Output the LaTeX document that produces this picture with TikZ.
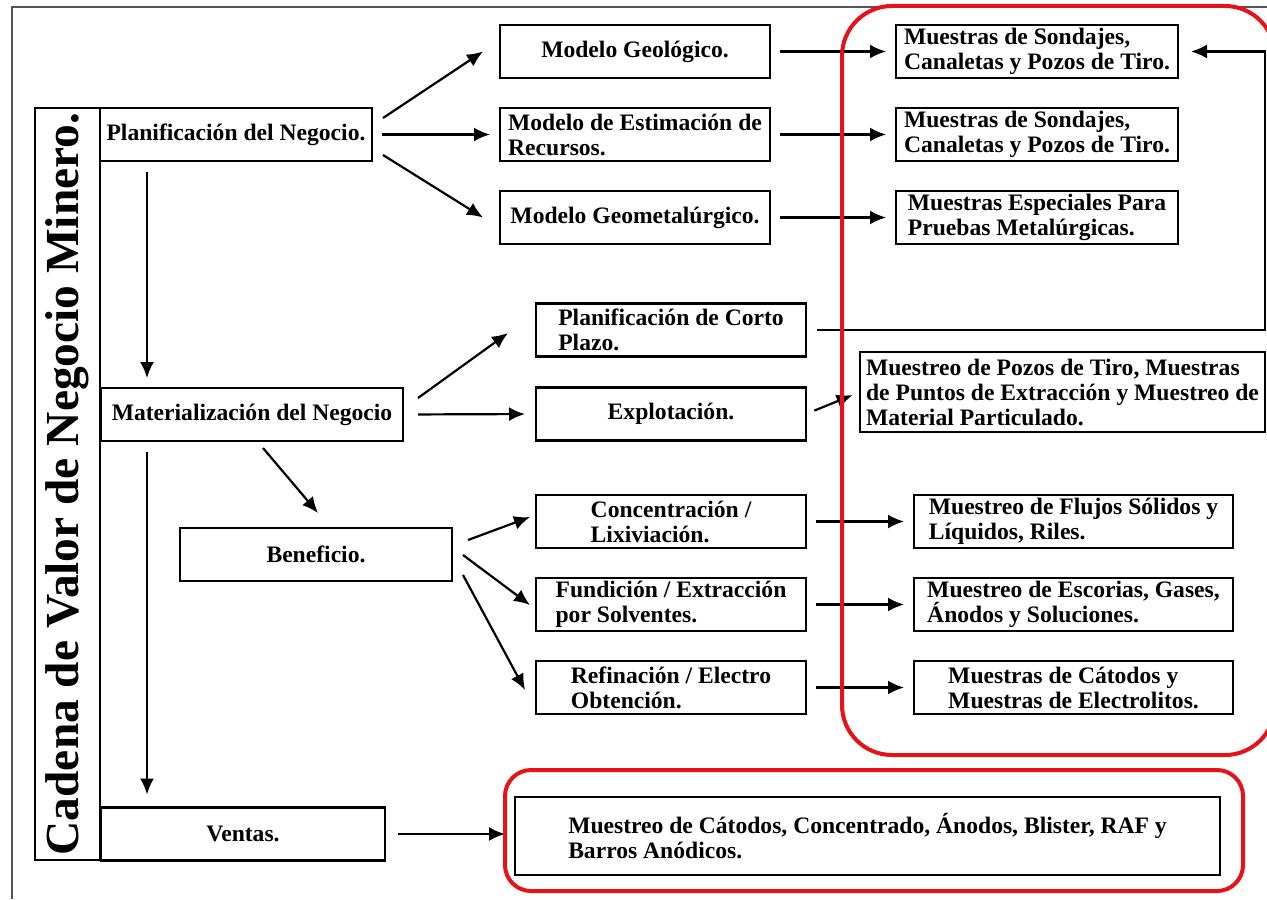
\documentclass[tikz,border=0pt]{standalone}
\usepackage{fontspec}
\setmainfont{Liberation Serif}
\usetikzlibrary{positioning, arrows.meta}
\definecolor{markred}{RGB}{230,18,24}
\definecolor{framegray}{RGB}{85,85,85}

\begin{document}
\begin{tikzpicture}[
            x=0.5pt, y=0.5pt,
            node distance=15pt and 54pt,
            stage/.style={rectangle, draw, line width=1.3pt, align=left, inner xsep=3pt, inner ysep=1pt, outer sep=0pt, minimum height=26.5pt, font=\fontsize{11.8}{12.5}\selectfont\bfseries},
            arrow/.style={-{Latex[length=8pt, width=7pt]}, line width=1.1pt},
            gap/.style={shorten <=5pt, shorten >=5pt},
            redzone/.style={draw=markred, line width=2pt}
        ]
        \useasboundingbox (0,0) rectangle (1267,-899);
        \clip (0,0) rectangle (1267,-899);

        % outer frame of the figure
        \draw[framegray, line width=1pt] (12,-899) |- (1280,-7);

        % value chain spine
        \node[stage, rotate=90, minimum width=376pt, minimum height=32.5pt, inner xsep=2pt, font=\fontsize{23.7}{26}\selectfont\bfseries] (cadena) at (67.5,-484) {Cadena de Valor de Negocio Minero.};
        \node[stage, minimum width=136pt] (planif) at (236,-134.5) {Planificación del Negocio.};
        \node[stage, minimum width=151pt] (materia) at (252,-414.5) {Materialización del Negocio};
        \node[stage, minimum width=136pt] (benef) at (316,-554.5) {Beneficio.};
        \node[stage, minimum width=142pt] (ventas) at (243,-834) {Ventas.};

        % stages
        \node[stage, minimum width=135pt] (geolog) at (635,-51.5) {Modelo Geológico.};
        \node[stage, minimum width=135pt, below=of geolog] (estim) {Modelo de Estimación de\\Recursos.};
        \node[stage, minimum width=135pt, below=of estim] (geomet) {Modelo Geometalúrgico.};
        \node[stage, minimum width=135pt] (corto) at (671,-330) {Planificación de Corto\\Plazo.};
        \node[stage, minimum width=135pt, below=15.5pt of corto] (explot) {Explotación.};
        \node[stage, minimum width=135pt] (concen) at (671,-521.5) {Concentración /\\Lixiviación.};
        \node[stage, minimum width=135pt, below=of concen] (fundic) {Fundición / Extracción\\por Solventes.};
        \node[stage, minimum width=135pt, below=of fundic] (refin) {Refinación / Electro\\Obtención.};

        % samples
        \node[stage, minimum width=141pt, right=63pt of geolog] (sond1) {Muestras de Sondajes,\\Canaletas y Pozos de Tiro.};
        \node[stage, minimum width=141pt, right=63pt of estim] (sond2) {Muestras de Sondajes,\\Canaletas y Pozos de Tiro.};
        \node[stage, minimum width=141pt, right=63pt of geomet] (especial) {Muestras Especiales Para\\Pruebas Metalúrgicas.};
        \node[stage, minimum width=202.5pt, minimum height=40pt] (pozos) at (1062.5,-392) {Muestreo de Pozos de Tiro, Muestras\\de Puntos de Extracción y Muestreo de\\Material Particulado.};
        \node[stage, minimum width=159.5pt, right=of concen] (flujos) {Muestreo de Flujos Sólidos y\\Líquidos, Riles.};
        \node[stage, minimum width=159.5pt, right=of fundic] (escorias) {Muestreo de Escorias, Gases,\\Ánodos y Soluciones.};
        \node[stage, minimum width=159.5pt, right=of refin] (catodos) {Muestras de Cátodos y\\Muestras de Electrolitos.};
        \node[stage, minimum width=352.5pt, minimum height=39pt] (comercial) at (867.5,-836) {Muestreo de Cátodos, Concentrado, Ánodos, Blister, RAF y\\Barros Anódicos.};

        % planning branch
        \draw[arrow] ([shift={(11,16.5)}]planif.east) -- ([shift={(-17,0)}]geolog.west);
        \draw[arrow, gap] (planif.east) -- (estim.west);
        \draw[arrow] ([shift={(11,-20.5)}]planif.east) -- ([shift={(-17,0)}]geomet.west);
        \draw[arrow] ([shift={(47,-11)}]planif.south west) -- ([shift={(46,10)}]materia.north west);

        % materialisation branch
        \draw[arrow] ([shift={(15,16.5)}]materia.east) -- ([shift={(-28,-3)}]corto.west);
        \draw[arrow, shorten <=7.5pt, shorten >=5.5pt] (materia.east) -- (explot.west);
        \draw[arrow] ([shift={(11,-7)}]materia.south) -- ([shift={(2,15)}]benef.north);
        \draw[arrow] ([shift={(46,-11)}]materia.south west) -- ([shift={(46,13)}]ventas.north west);

        % beneficio branch
        \draw[arrow] ([shift={(16,14.5)}]benef.east) -- ([shift={(-6,4.5)}]concen.west);
        \draw[arrow] ([shift={(11,-0.5)}]benef.east) -- ([shift={(-6,-0.5)}]fundic.west);
        \draw[arrow] ([shift={(11,-20.5)}]benef.east) -- ([shift={(-11,-2.5)}]refin.west);

        % towards the samples
        \draw[arrow, gap] (geolog) -- (sond1);
        \draw[arrow, gap] (estim) -- (sond2);
        \draw[arrow, gap] (geomet) -- (especial);
        \draw[arrow, shorten <=4.5pt, shorten >=4pt] (explot.east) -- (pozos.west);
        \draw[arrow, gap] (concen) -- (flujos);
        \draw[arrow, gap] (fundic) -- (escorias);
        \draw[arrow, gap] (refin) -- (catodos);
        \draw[arrow, shorten <=6.5pt, shorten >=5pt] (ventas.east) -- (ventas.east -| comercial.west);

        % feedback from short term planning
        \coordinate (retorno) at (1265,-330);
        \draw[arrow, shorten <=5.5pt, shorten >=6.5pt] (corto.east) -- (retorno) |- (sond1.east);

        % highlighted groups
        \draw[redzone, rounded corners=25pt] (842,-6) rectangle (1275,-755);
        \draw[redzone, rounded corners=13pt] (505,-770) rectangle (1243,-891);
    \end{tikzpicture}
\end{document}
